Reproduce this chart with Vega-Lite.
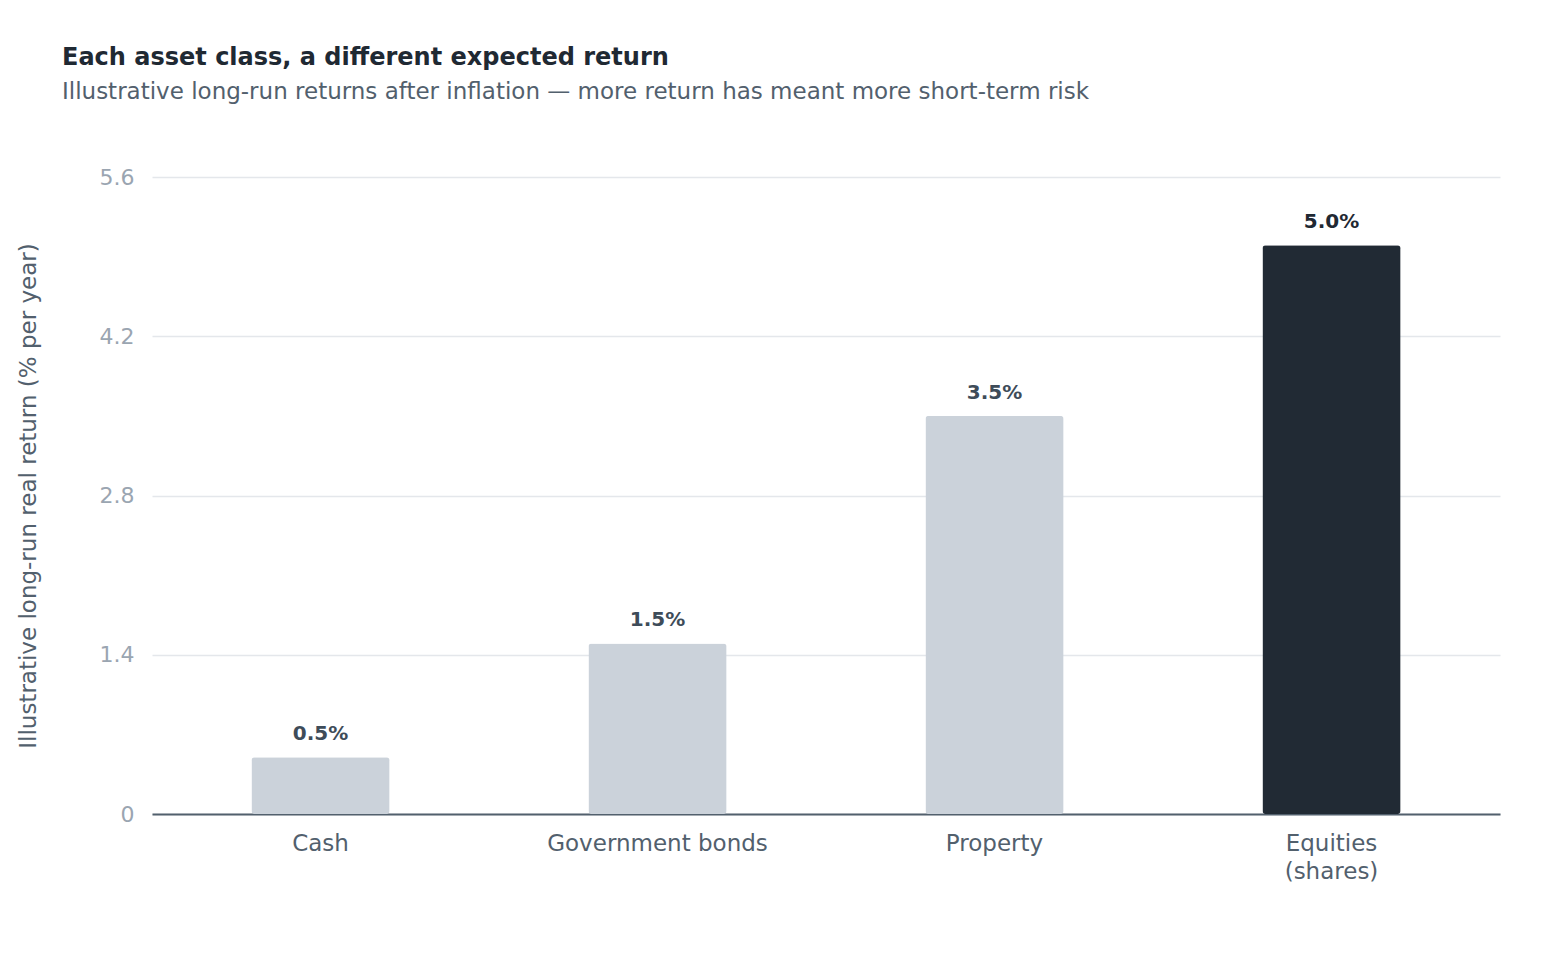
{
  "$schema": "https://vega.github.io/schema/vega-lite/v6.json",
  "width": 1348,
  "height": 637,
  "autosize": {"type": "none"},
  "padding": {"left": 152, "top": 177, "right": 60, "bottom": 139},
  "background": "#ffffff",
  "title": {
    "text": "Each asset class, a different expected return",
    "subtitle": "Illustrative long-run returns after inflation — more return has meant more short-term risk",
    "anchor": "start",
    "frame": "group",
    "dx": -90,
    "offset": 62,
    "font": "DejaVu Sans",
    "fontSize": 24,
    "fontWeight": "bold",
    "color": "#1F2933",
    "subtitleFont": "DejaVu Sans",
    "subtitleFontSize": 23,
    "subtitleColor": "#52606D",
    "subtitlePadding": 11
  },
  "config": {
    "view": {"stroke": null},
    "font": "DejaVu Sans"
  },
  "data": {
    "values": [
      {"asset": "Cash", "value": 0.5, "label": "0.5%", "highlight": "no"},
      {"asset": "Government bonds", "value": 1.5, "label": "1.5%", "highlight": "no"},
      {"asset": "Property", "value": 3.5, "label": "3.5%", "highlight": "no"},
      {"asset": "Equities (shares)", "value": 5.0, "label": "5.0%", "highlight": "yes"}
    ]
  },
  "encoding": {
    "x": {
      "field": "asset",
      "type": "nominal",
      "sort": null,
      "scale": {"paddingInner": 0.59, "paddingOuter": 0.295},
      "axis": {
        "title": null,
        "labelAngle": 0,
        "labelFont": "DejaVu Sans",
        "labelFontSize": 23,
        "labelColor": "#52606D",
        "labelPadding": 18,
        "labelLineHeight": 28,
        "labelLimit": 0,
        "labelExpr": "datum.label == 'Equities (shares)' ? ['Equities', '(shares)'] : datum.label",
        "ticks": false,
        "domainColor": "#52606D",
        "domainWidth": 2,
        "grid": false
      }
    },
    "y": {
      "field": "value",
      "type": "quantitative",
      "scale": {"domain": [0, 5.6], "nice": false},
      "axis": {
        "title": "Illustrative long-run real return (% per year)",
        "titleFont": "DejaVu Sans",
        "titleFontSize": 23,
        "titleFontWeight": "normal",
        "titleColor": "#52606D",
        "titlePadding": 59,
        "values": [0, 1.4, 2.8, 4.2, 5.6],
        "labelExpr": "datum.value == 0 ? '0' : format(datum.value, '.1f')",
        "labelFont": "DejaVu Sans",
        "labelFontSize": 22,
        "labelColor": "#9AA5B1",
        "labelPadding": 18,
        "ticks": false,
        "domain": false,
        "grid": true,
        "gridColor": "#E4E7EB",
        "gridWidth": 1.5
      }
    }
  },
  "layer": [
    {
      "mark": {"type": "bar", "cornerRadius": 3},
      "encoding": {
        "color": {
          "field": "highlight",
          "type": "nominal",
          "scale": {"domain": ["no", "yes"], "range": ["#CBD2DA", "#212A34"]},
          "legend": null
        }
      }
    },
    {
      "mark": {"type": "text", "baseline": "bottom", "dy": -13, "fontSize": 20, "fontWeight": "bold", "font": "DejaVu Sans"},
      "encoding": {
        "text": {"field": "label"},
        "color": {
          "condition": {"test": "datum.highlight == 'yes'", "value": "#1F2933"},
          "value": "#3E4C59"
        }
      }
    }
  ]
}
